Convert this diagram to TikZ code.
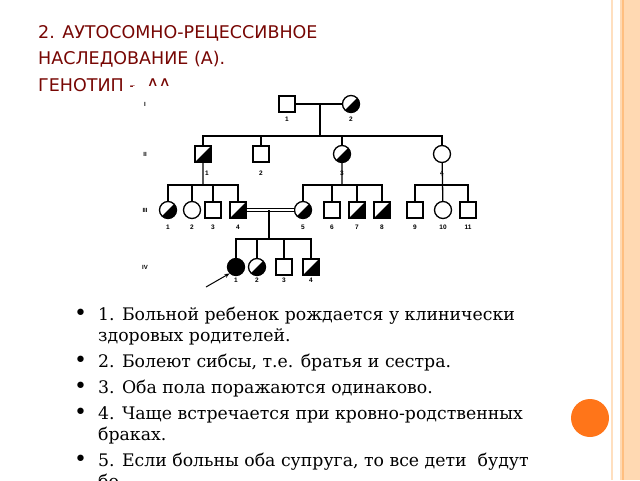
\documentclass[tikz,border=0pt]{standalone}
\usepackage{fontspec}
\usetikzlibrary{arrows.meta}
\setmainfont{DejaVu Serif}
\newfontfamily\titlefont{DejaVu Sans}
\newfontfamily\pedfont{Liberation Sans}
\begin{document}
\begin{tikzpicture}[x=1pt, y=-1pt,
    every node/.style={inner sep=0pt},
    male/.style={draw, rectangle, minimum size=16pt, fill=white, line width=1.3pt},
    female/.style={draw, circle, minimum size=17pt, fill=white, line width=1.3pt},
    carrier/.style={path picture={\fill[black] (path picture bounding box.south west) -- (path picture bounding box.north east) -- (path picture bounding box.south east) -- cycle;}},
    ill/.style={fill=black},
    num/.style={font=\pedfont\bfseries\fontsize{6.5}{7}\selectfont},
    gen/.style={font=\pedfont\bfseries\fontsize{6}{7}\selectfont},
    line/.style={line width=1.3pt},
    ttl/.style={anchor=base west, font=\titlefont\fontsize{17.5}{20}\selectfont, text=red!45!black!95!brown},
    item/.style={anchor=base west, font=\fontsize{17.3}{20}\selectfont}]
\useasboundingbox (0,0) rectangle (640,480);
% полосы справа
\fill[orange!30] (620,0) rectangle (640,480);
\draw[orange!50, line width=1.5pt] (623,0) -- (623,480);
\draw[orange!25, line width=2pt] (612,0) -- (612,480);
\fill[orange!80!red!90] (590,418) circle (19);
% заголовок
\node[ttl] (t1) at (38,38) {2. АУТОСОМНО-РЕЦЕССИВНОЕ};
\node[ttl] (t2) at (38,64) {НАСЛЕДОВАНИЕ (А).};
\node[ttl] (t3) at (38,91) {ГЕНОТИП -\ \ АА};
\fill[white] (133,86) rectangle (490,292);
% поколения
\node[gen] (gI) at (145,104) {I};
\node[gen] (gII) at (145,154) {II};
\node[gen] (gIII) at (145,210) {III};
\node[gen] (gIV) at (145,267) {IV};
% I
\node[male] (a1) at (287,104) {};
\node[female, carrier] (a2) at (351,104) {};
\coordinate (ma) at (320,104);
\coordinate (sa) at (320,136);
\draw[line] (a1) -- (a2) (ma) -- (sa);
% II
\node[male, carrier] (b1) at (203,154) {};
\node[male] (b2) at (261,154) {};
\node[female, carrier] (b3) at (342,154) {};
\node[female] (b4) at (442,154) {};
\draw[line] (b1.north) |- (sa) -| (b4.north);
\foreach \x in {2,3}
    \draw[line] (b\x.north) -- (b\x.north |- sa);
% III
\node[female, carrier] (c1) at (168,210) {};
\node[female] (c2) at (192,210) {};
\node[male] (c3) at (213,210) {};
\node[male, carrier] (c4) at (238,210) {};
\node[female, carrier] (c5) at (303,210) {};
\node[male] (c6) at (332,210) {};
\node[male, carrier] (c7) at (357,210) {};
\node[male, carrier] (c8) at (382,210) {};
\node[male] (c9) at (415,210) {};
\node[female] (c10) at (443,210) {};
\node[male] (c11) at (468,210) {};
\coordinate (sb1) at (203,185);
\coordinate (sb3) at (342,185);
\coordinate (sb4) at (442,185);
\draw[line] (b1) -- (sb1) (b3) -- (sb3) (b4) -- (c10);
\draw[line] (c1.north) |- (sb1) -| (c4.north);
\draw[line] (c5.north) |- (sb3) -| (c8.north);
\draw[line] (c9.north) |- (sb4) -| (c11.north);
\foreach \x in {2,3,6,7}
    \draw[line] (c\x.north) -- (c\x.north |- sb1);
\draw[line, double, double distance=2pt, line width=0.8pt] (c4) -- (c5);
% IV
\node[female, ill] (d1) at (236,267) {};
\node[female, carrier] (d2) at (257,267) {};
\node[male] (d3) at (284,267) {};
\node[male, carrier] (d4) at (311,267) {};
\coordinate (mc) at (269,210);
\coordinate (sc) at (269,239);
\draw[line] (mc) -- (sc);
\draw[line] (d1.north) |- (sc) -| (d4.north);
\foreach \x in {2,3}
    \draw[line] (d\x.north) -- (d\x.north |- sc);
\coordinate (ar) at (206,287);
\draw[-{Stealth[length=5pt, width=4pt]}, line width=1pt] (ar) -- (d1.south west);
% номера
\node[num] at (287,119) {1};
\node[num] at (351,119) {2};
\foreach \x/\n in {207/1,261/2,342/3,442/4}
    \node[num] at (\x,173) {\n};
\foreach \x/\n in {168/1,192/2,213/3,238/4,303/5,332/6,357/7,382/8,415/9,443/10,468/11}
    \node[num] at (\x,227) {\n};
\foreach \x/\n in {236/1,257/2,284/3,311/4}
    \node[num] at (\x,280) {\n};
% список
\foreach \y/\t in {320/1. Больной ребенок рождается у клинически,
                   341/здоровых родителей.,
                   367/2. Болеют сибсы{,} т.е. братья и сестра.,
                   393/3. Оба пола поражаются одинаково.,
                   419/4. Чаще встречается при кровно-родственных,
                   440/браках.,
                   466/5. Если больны оба супруга{,} то все дети\ \ будут,
                   487/бо}
    \node[item] at (98,\y) {\t};
\foreach \y in {320,367,393,419,466}
    \node[item, font=\fontsize{22}{22}\selectfont] at (74,\y) {•};
\end{tikzpicture}
\end{document}
